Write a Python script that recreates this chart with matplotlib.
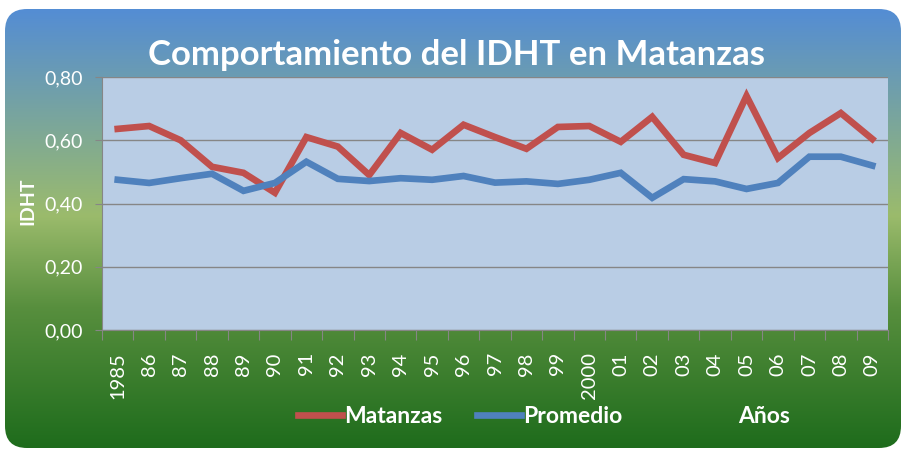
import numpy as np
import matplotlib
matplotlib.use('Agg')
import matplotlib.pyplot as plt
from matplotlib.colors import LinearSegmentedColormap
from matplotlib.patches import FancyBboxPatch

anios = ['1985', '86', '87', '88', '89', '90', '91', '92', '93', '94', '95', '96', '97',
         '98', '99', '2000', '01', '02', '03', '04', '05', '06', '07', '08', '09']
matanzas = [0.636, 0.645, 0.600, 0.516, 0.497, 0.434, 0.610, 0.580, 0.490, 0.623, 0.570,
            0.649, 0.610, 0.573, 0.642, 0.645, 0.595, 0.674, 0.554, 0.528, 0.740, 0.544,
            0.623, 0.686, 0.604]
promedio = [0.475, 0.465, 0.480, 0.494, 0.440, 0.465, 0.532, 0.478, 0.471, 0.480, 0.475,
            0.487, 0.466, 0.470, 0.462, 0.475, 0.497, 0.418, 0.477, 0.470, 0.446, 0.465,
            0.548, 0.548, 0.520]
yticks = [0.0, 0.2, 0.4, 0.6, 0.8]

plt.rcParams['font.family'] = ['Lato', 'DejaVu Sans']

fig = plt.figure(figsize=(9.01, 4.49), dpi=100)
fig.patch.set_facecolor('white')

# fondo degradado con esquinas redondeadas
bg = fig.add_axes([0, 0, 1, 1], zorder=0)
bg.set_xlim(0, 901)
bg.set_ylim(449, 0)
bg.axis('off')
cmap = LinearSegmentedColormap.from_list('fondo', [
    (0.0, (84/255, 141/255, 212/255)),
    (0.47, (155/255, 187/255, 108/255)),
    (0.68, (88/255, 143/255, 62/255)),
    (1.0, (30/255, 108/255, 28/255))])
grad = np.linspace(0, 1, 256).reshape(-1, 1)
img = bg.imshow(grad, cmap=cmap, aspect='auto', extent=(5, 901, 448, 9))
box = FancyBboxPatch((5, 9), 896, 439, boxstyle='round,pad=0,rounding_size=22',
                     facecolor='none', edgecolor='none', transform=bg.transData)
bg.add_patch(box)
img.set_clip_path(box)

ax = fig.add_axes([102/901, 1 - 330/449, 786/901, 253/449], zorder=1)
ax.set_facecolor('#b9cde5')
x = np.arange(len(anios))
ax.plot(x, matanzas, color='#c0504d', lw=4.8, solid_joinstyle='miter', label='Matanzas')
ax.plot(x, promedio, color='#4f81bd', lw=4.8, solid_joinstyle='miter', label='Promedio')

ax.set_xlim(-0.5, len(anios) - 0.5)
ax.set_ylim(0, 0.8)
ax.set_yticks(yticks)
ax.set_yticklabels([f'{v:.2f}'.replace('.', ',') for v in yticks])
ax.yaxis.grid(True, color='#868686', lw=1)
ax.set_axisbelow(True)

ax.set_xticks(np.arange(-0.5, len(anios)), minor=False)
ax.set_xticklabels([])
ax.set_xticks(x, minor=True)
ax.set_xticklabels(anios, minor=True, rotation=90)
ax.tick_params(axis='x', which='major', length=7, color='#868686', direction='out')
ax.tick_params(axis='x', which='minor', length=0, pad=16, labelsize=14.5, labelcolor='white')
ax.tick_params(axis='y', length=5, color='#868686', pad=9, labelsize=14, labelcolor='white')

for s in ['top', 'right']:
    ax.spines[s].set_visible(False)
for s in ['left', 'bottom']:
    ax.spines[s].set_color('#868686')

ax.set_ylabel('IDHT', color='white', fontsize=14, fontweight='bold')
ax.yaxis.set_label_coords(-0.083, 0.51)

fig.text(0.507, 0.878, 'Comportamiento del IDHT en Matanzas', color='white',
         fontsize=25, fontweight='bold', ha='center', va='center')

leg = fig.legend(loc='center', bbox_to_anchor=(0.511, 0.073), ncol=2, frameon=False,
                 handlelength=1.9, handletextpad=0.12, columnspacing=1.5,
                 prop={'size': 16.5, 'weight': 'bold'})
for t in leg.get_texts():
    t.set_color('white')

fig.text(764/901, 0.073, 'Años', color='white', fontsize=16.5, fontweight='bold',
         ha='center', va='center')

fig.savefig('out.png', dpi=100)
